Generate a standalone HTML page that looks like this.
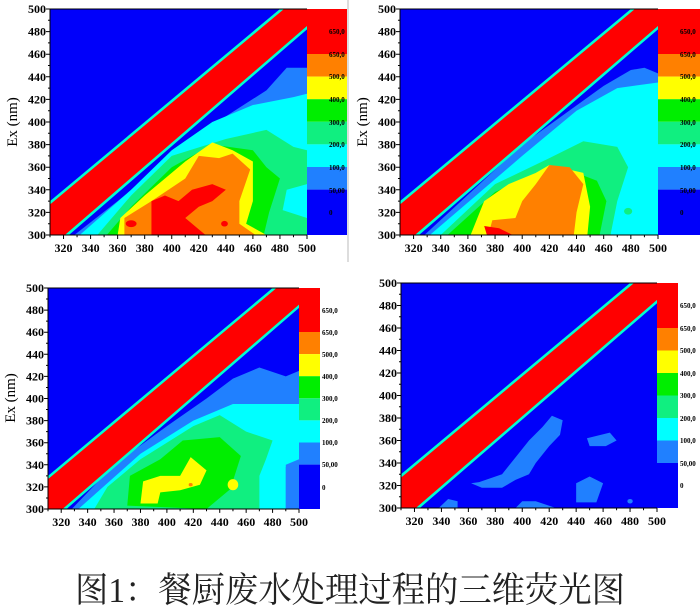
<!DOCTYPE html>
<html><head><meta charset="utf-8"><style>
html,body{margin:0;padding:0;background:#fff;}
svg text{font-family:"Liberation Serif","DejaVu Serif",serif;font-weight:bold;}
.t{font-size:12px;}
.c{font-size:7px;}
.ttl{font-family:"Liberation Serif","Noto Serif CJK SC",serif;font-weight:normal;font-size:35px;fill:#222;}
</style></head><body>
<svg width="700" height="610" viewBox="0 0 700 610" xmlns="http://www.w3.org/2000/svg">
<defs>
<g id="base">
<rect x="310" y="300" width="190" height="200" fill="#0000fa"/>
</g>
<g id="band">
<polygon points="310,330 480,500 500,500 500,482 324,300 310,300" fill="#00ffd0"/>
<polygon points="310,327 483,500 500,500 500,485 321,300 310,300" fill="#ff0000"/>
</g>
<g id="ticks">
<path fill="none" stroke="#000" stroke-width="1" vector-effect="non-scaling-stroke" d="M320,300V296.5M340,300V296.5M360,300V296.5M380,300V296.5M400,300V296.5M420,300V296.5M440,300V296.5M460,300V296.5M480,300V296.5M500,300V296.5M310,300V298M330,300V298M350,300V298M370,300V298M390,300V298M410,300V298M430,300V298M450,300V298M470,300V298M490,300V298M310,300H307M310,320H307M310,340H307M310,360H307M310,380H307M310,400H307M310,420H307M310,440H307M310,460H307M310,480H307M310,500H307M310,310H308.5M310,330H308.5M310,350H308.5M310,370H308.5M310,390H308.5M310,410H308.5M310,430H308.5M310,450H308.5M310,470H308.5M310,490H308.5M310,300H500M310,300V500M310,500H500"/>
</g>
</defs>

<line x1="348" y1="0" x2="348" y2="262" stroke="#bbb" stroke-width="1"/>

<!-- Panel 1 -->
<svg x="50" y="9" width="257" height="226" viewBox="310 300 190 200" preserveAspectRatio="none" overflow="visible">
<g transform="matrix(1 0 0 -1 0 800)">
<use href="#base"/>
<polygon fill="#2080ff" points="328,300 360,330 400,370 440,405 470,428 485,448 500,448 500,300"/>
<polygon fill="#00ffff" points="332,300 370,340 400,375 430,400 460,415 490,422 500,425 500,300"/>
<polygon fill="#10ef80" points="345,300 370,335 400,370 440,385 470,393 490,378 500,375 500,345 485,340 482,322 500,315 500,300"/>
<polygon fill="#00ee00" points="352,300 370,325 400,360 430,380 460,375 470,360 480,350 472,320 468,300"/>
<polygon fill="#ffff00" points="360,300 362,315 380,335 410,365 430,382 445,375 460,365 460,330 455,310 470,300"/>
<polygon fill="#ff8000" points="365,300 365,315 385,330 410,350 420,370 435,368 445,372 458,358 450,330 450,310 462,300"/>
<polygon fill="#ff0000" points="385,300 385,330 395,335 405,330 415,340 430,345 440,340 430,330 420,325 410,315 420,305 425,300"/>
<ellipse cx="370" cy="310" rx="4" ry="3" fill="#ff0000"/>
<ellipse cx="439" cy="310" rx="2.5" ry="2.5" fill="#ff0000"/>
<use href="#band"/>
<use href="#ticks"/>
</g></svg>
<g><rect x="307" y="9" width="40" height="45" fill="#ff0000"/><rect x="307" y="54" width="40" height="22.6" fill="#ff8000"/><rect x="307" y="76.6" width="40" height="22.6" fill="#ffff00"/><rect x="307" y="99.2" width="40" height="22.6" fill="#00ee00"/><rect x="307" y="121.8" width="40" height="22.6" fill="#10ef80"/><rect x="307" y="144.4" width="40" height="22.6" fill="#00ffff"/><rect x="307" y="167" width="40" height="22.6" fill="#2080ff"/><rect x="307" y="189.6" width="40" height="45.4" fill="#0000fa"/></g>
<g class="c" fill="#000"><text x="329" y="34">650,0</text><text x="329" y="57">650,0</text><text x="329" y="79">500,0</text><text x="329" y="102">400,0</text><text x="329" y="125">300,0</text><text x="329" y="147">200,0</text><text x="329" y="170">100,0</text><text x="329" y="193">50,00</text><text x="329" y="215">0</text></g>
<g class="t" text-anchor="middle"><text x="63.5" y="252">320</text><text x="90.6" y="252">340</text><text x="117.6" y="252">360</text><text x="144.7" y="252">380</text><text x="171.7" y="252">400</text><text x="198.8" y="252">420</text><text x="225.8" y="252">440</text><text x="252.9" y="252">460</text><text x="279.9" y="252">480</text><text x="307" y="252">500</text></g>
<g class="t" text-anchor="end"><text x="46" y="239">300</text><text x="46" y="216.4">320</text><text x="46" y="193.8">340</text><text x="46" y="171.2">360</text><text x="46" y="148.6">380</text><text x="46" y="126">400</text><text x="46" y="103.4">420</text><text x="46" y="80.8">440</text><text x="46" y="58.2">460</text><text x="46" y="35.6">480</text><text x="46" y="13">500</text></g>
<text transform="translate(17,122) rotate(-90)" text-anchor="middle" style="font-weight:normal;font-size:15px">Ex (nm)</text>

<!-- Panel 2 -->
<svg x="400" y="9" width="258" height="226" viewBox="310 300 190 200" preserveAspectRatio="none" overflow="visible">
<g transform="matrix(1 0 0 -1 0 800)">
<use href="#base"/>
<polygon fill="#2080ff" points="328,300 400,380 460,432 480,446 490,448 500,443 500,300"/>
<polygon fill="#00ffff" points="332,300 400,370 440,410 470,430 500,435 500,300"/>
<polygon fill="#10ef80" points="340,300 380,345 420,368 445,383 470,378 478,360 470,330 465,300"/>
<polygon fill="#00ee00" points="345,300 380,338 410,355 440,355 455,348 462,330 457,300"/>
<polygon fill="#ffff00" points="362,300 372,330 390,345 410,355 420,362 445,355 450,325 448,300"/>
<polygon fill="#ff8000" points="375,300 378,313 395,315 400,330 410,345 420,362 435,360 445,345 440,320 438,300"/>
<polygon fill="#ff0000" points="372,308 383,306 393,300 374,300"/>
<ellipse cx="478" cy="321" rx="3" ry="3" fill="#10ef80"/>
<use href="#band"/>
<use href="#ticks"/>
</g></svg>
<g><rect x="658" y="9" width="42" height="45" fill="#ff0000"/><rect x="658" y="54" width="42" height="22.6" fill="#ff8000"/><rect x="658" y="76.6" width="42" height="22.6" fill="#ffff00"/><rect x="658" y="99.2" width="42" height="22.6" fill="#00ee00"/><rect x="658" y="121.8" width="42" height="22.6" fill="#10ef80"/><rect x="658" y="144.4" width="42" height="22.6" fill="#00ffff"/><rect x="658" y="167" width="42" height="22.6" fill="#2080ff"/><rect x="658" y="189.6" width="42" height="45.4" fill="#0000fa"/></g>
<g class="c" fill="#000"><text x="680" y="34">650,0</text><text x="680" y="57">650,0</text><text x="680" y="79">500,0</text><text x="680" y="102">400,0</text><text x="680" y="125">300,0</text><text x="680" y="147">200,0</text><text x="680" y="170">100,0</text><text x="680" y="193">50,00</text><text x="680" y="215">0</text></g>
<g class="t" text-anchor="middle"><text x="413.6" y="252">320</text><text x="440.7" y="252">340</text><text x="467.9" y="252">360</text><text x="495.1" y="252">380</text><text x="522.2" y="252">400</text><text x="549.4" y="252">420</text><text x="576.5" y="252">440</text><text x="603.7" y="252">460</text><text x="630.8" y="252">480</text><text x="658" y="252">500</text></g>
<g class="t" text-anchor="end"><text x="396" y="239">300</text><text x="396" y="216.4">320</text><text x="396" y="193.8">340</text><text x="396" y="171.2">360</text><text x="396" y="148.6">380</text><text x="396" y="126">400</text><text x="396" y="103.4">420</text><text x="396" y="80.8">440</text><text x="396" y="58.2">460</text><text x="396" y="35.6">480</text><text x="396" y="13">500</text></g>
<text transform="translate(367,122) rotate(-90)" text-anchor="middle" style="font-weight:normal;font-size:15px">Ex (nm)</text>

<!-- Panel 3 -->
<svg x="48" y="288" width="251" height="221" viewBox="310 300 190 200" preserveAspectRatio="none" overflow="visible">
<g transform="matrix(1 0 0 -1 0 800)">
<use href="#base"/>
<polygon fill="#2080ff" points="328,300 360,340 400,375 430,400 450,418 470,428 490,420 500,425 500,300"/>
<polygon fill="#00ffff" points="333,300 380,350 420,380 450,395 500,395 500,345 490,340 490,300"/>
<polygon fill="#10ef80" points="345,300 355,320 380,345 420,375 440,385 460,370 480,362 475,345 470,330 470,300"/>
<polygon fill="#00ee00" points="370,303 372,330 395,345 412,362 440,365 456,348 448,318 430,300"/>
<polygon fill="#ffff00" points="380,305 382,325 395,330 410,330 418,347 430,335 425,322 410,317 395,315 393,305"/>
<ellipse cx="450" cy="322" rx="4" ry="5" fill="#ffff00"/>
<ellipse cx="418" cy="322" rx="1.5" ry="1.5" fill="#ff8000"/>
<polygon fill="#2080ff" points="490,300 500,300 500,340 490,338"/>
<use href="#band"/>
<use href="#ticks"/>
</g></svg>
<g><rect x="299" y="288" width="21" height="44" fill="#ff0000"/><rect x="299" y="332" width="21" height="22.1" fill="#ff8000"/><rect x="299" y="354.1" width="21" height="22.1" fill="#ffff00"/><rect x="299" y="376.2" width="21" height="22.1" fill="#00ee00"/><rect x="299" y="398.3" width="21" height="22.1" fill="#10ef80"/><rect x="299" y="420.4" width="21" height="22.1" fill="#00ffff"/><rect x="299" y="442.5" width="21" height="22.1" fill="#2080ff"/><rect x="299" y="464.6" width="21" height="44.4" fill="#0000fa"/></g>
<g class="c" fill="#000"><text x="322" y="313">650,0</text><text x="322" y="335">650,0</text><text x="322" y="357">500,0</text><text x="322" y="379">400,0</text><text x="322" y="401">300,0</text><text x="322" y="423">200,0</text><text x="322" y="445">100,0</text><text x="322" y="467">50,00</text><text x="322" y="490">0</text></g>
<g class="t" text-anchor="middle"><text x="61.2" y="526">320</text><text x="87.6" y="526">340</text><text x="114" y="526">360</text><text x="140.5" y="526">380</text><text x="166.9" y="526">400</text><text x="193.3" y="526">420</text><text x="219.7" y="526">440</text><text x="246.2" y="526">460</text><text x="272.6" y="526">480</text><text x="299" y="526">500</text></g>
<g class="t" text-anchor="end"><text x="44" y="513">300</text><text x="44" y="490.9">320</text><text x="44" y="468.8">340</text><text x="44" y="446.7">360</text><text x="44" y="424.6">380</text><text x="44" y="402.5">400</text><text x="44" y="380.4">420</text><text x="44" y="358.3">440</text><text x="44" y="336.2">460</text><text x="44" y="314.1">480</text><text x="44" y="292">500</text></g>
<text transform="translate(15,398) rotate(-90)" text-anchor="middle" style="font-weight:normal;font-size:15px">Ex (nm)</text>

<!-- Panel 4 -->
<svg x="401" y="283" width="256" height="225" viewBox="310 300 190 200" preserveAspectRatio="none" overflow="visible">
<g transform="matrix(1 0 0 -1 0 800)">
<use href="#base"/>
<polygon fill="#2080ff" points="338,300 345,308 352,306 352,300"/>
<polygon fill="#2080ff" points="368,323 385,330 395,345 405,360 415,372 422,382 430,378 428,365 420,355 410,340 405,330 395,325 385,318 370,318 362,322"/>
<polygon fill="#2080ff" points="448,362 465,367 470,360 462,355 450,355"/>
<polygon fill="#2080ff" points="440,305 440,322 450,328 460,322 455,305"/>
<polygon fill="#2080ff" points="395,300 400,306 410,306 425,300"/>
<ellipse cx="480" cy="306" rx="2" ry="2" fill="#2080ff"/>
<use href="#band"/>
<use href="#ticks"/>
</g></svg>
<g><rect x="657" y="283" width="21" height="45" fill="#ff0000"/><rect x="657" y="328" width="21" height="22.5" fill="#ff8000"/><rect x="657" y="350.5" width="21" height="22.5" fill="#ffff00"/><rect x="657" y="373" width="21" height="22.5" fill="#00ee00"/><rect x="657" y="395.5" width="21" height="22.5" fill="#10ef80"/><rect x="657" y="418" width="21" height="22.5" fill="#00ffff"/><rect x="657" y="440.5" width="21" height="22.5" fill="#2080ff"/><rect x="657" y="463" width="21" height="45" fill="#0000fa"/></g>
<g class="c" fill="#000"><text x="680" y="308">650,0</text><text x="680" y="331">650,0</text><text x="680" y="353">500,0</text><text x="680" y="376">400,0</text><text x="680" y="398">300,0</text><text x="680" y="421">200,0</text><text x="680" y="443">100,0</text><text x="680" y="466">50,00</text><text x="680" y="488">0</text></g>
<g class="t" text-anchor="middle"><text x="414.5" y="525">320</text><text x="441.4" y="525">340</text><text x="468.4" y="525">360</text><text x="495.3" y="525">380</text><text x="522.2" y="525">400</text><text x="549.2" y="525">420</text><text x="576.1" y="525">440</text><text x="603.1" y="525">460</text><text x="630" y="525">480</text><text x="657" y="525">500</text></g>
<g class="t" text-anchor="end"><text x="397" y="512">300</text><text x="397" y="489.5">320</text><text x="397" y="467">340</text><text x="397" y="444.5">360</text><text x="397" y="422">380</text><text x="397" y="399.5">400</text><text x="397" y="377">420</text><text x="397" y="354.5">440</text><text x="397" y="332">460</text><text x="397" y="309.5">480</text><text x="397" y="287">500</text></g>

<text class="ttl" x="75" y="602" textLength="550" lengthAdjust="spacingAndGlyphs">图1：餐厨废水处理过程的三维荧光图</text>
</svg>
</body></html>
